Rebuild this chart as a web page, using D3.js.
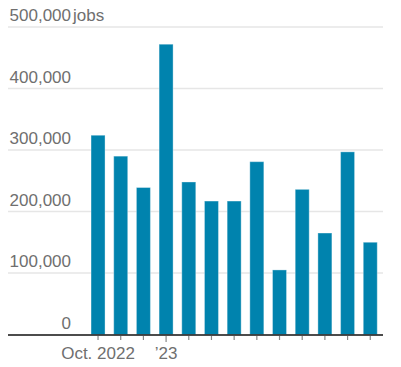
<!DOCTYPE html>
<html>
<head>
<meta charset="utf-8">
<script src="https://cdn.jsdelivr.net/npm/d3@7"></script>
<style>
  html, body { margin: 0; padding: 0; background: #fff; }
  svg { display: block; font-family: "Liberation Sans", Arial, sans-serif; }
</style>
</head>
<body>
<svg id="chart" width="401" height="367"></svg>
<script>
const months = ["2022-10","2022-11","2022-12","2023-01","2023-02","2023-03","2023-04","2023-05","2023-06","2023-07","2023-08","2023-09","2023-10"];
const jobs = [324000, 290000, 239000, 472000, 248000, 217000, 217000, 281000, 105000, 236000, 165000, 297000, 150000];
const yTicks = [0, 100000, 200000, 300000, 400000, 500000];
const xLabels = {"2022-10": "Oct. 2022", "2023-01": "\u201923"};

const svg = d3.select("#chart");
const left = 8, right = 383;
const y = d3.scaleLinear().domain([0, 500000]).range([334.5, 27]);
const x = d3.scaleBand().domain(months).range([86.5, 381.8]).paddingInner(0.383).paddingOuter(0.2);

// gridlines
svg.append("g").selectAll("line").data(yTicks.filter(d => d > 0)).join("line")
  .attr("x1", left).attr("x2", right)
  .attr("y1", d => y(d)).attr("y2", d => y(d))
  .attr("stroke", "#e6e6e6").attr("stroke-width", 1.5);

// y labels
const fmt = d3.format(",");
svg.append("g").selectAll("text").data(yTicks).join("text")
  .attr("x", 71).attr("y", d => y(d) - 6)
  .attr("text-anchor", "end")
  .attr("font-size", 17).attr("fill", "#6f6f6f")
  .text(d => fmt(d));
svg.append("text").attr("x", 73).attr("y", y(500000) - 6)
  .attr("font-size", 17).attr("fill", "#6f6f6f").text("jobs");

// bars
svg.append("g").selectAll("rect").data(months).join("rect")
  .attr("x", d => x(d)).attr("width", x.bandwidth())
  .attr("y", (d, i) => y(jobs[i])).attr("height", (d, i) => y(0) - y(jobs[i]))
  .attr("fill", "#0083ae")
  .attr("stroke", "rgba(255,255,255,0.35)").attr("stroke-width", 1);

// baseline
svg.append("line").attr("x1", left).attr("x2", right)
  .attr("y1", y(0) + 0.5).attr("y2", y(0) + 0.5)
  .attr("stroke", "#111").attr("stroke-width", 1.5);

// ticks
svg.append("g").selectAll("line").data(months).join("line")
  .attr("x1", d => x(d) + x.bandwidth() / 2).attr("x2", d => x(d) + x.bandwidth() / 2)
  .attr("y1", y(0) + 1.5).attr("y2", d => y(0) + (d === "2023-01" ? 7.5 : 5.5))
  .attr("stroke", "#888").attr("stroke-width", 1.2);

// x labels
svg.append("g").selectAll("text").data(months.filter(m => xLabels[m])).join("text")
  .attr("x", d => x(d) + x.bandwidth() / 2).attr("y", 359)
  .attr("text-anchor", "middle")
  .attr("font-size", 17).attr("fill", "#6f6f6f")
  .text(d => xLabels[d]);
</script>
</body>
</html>
